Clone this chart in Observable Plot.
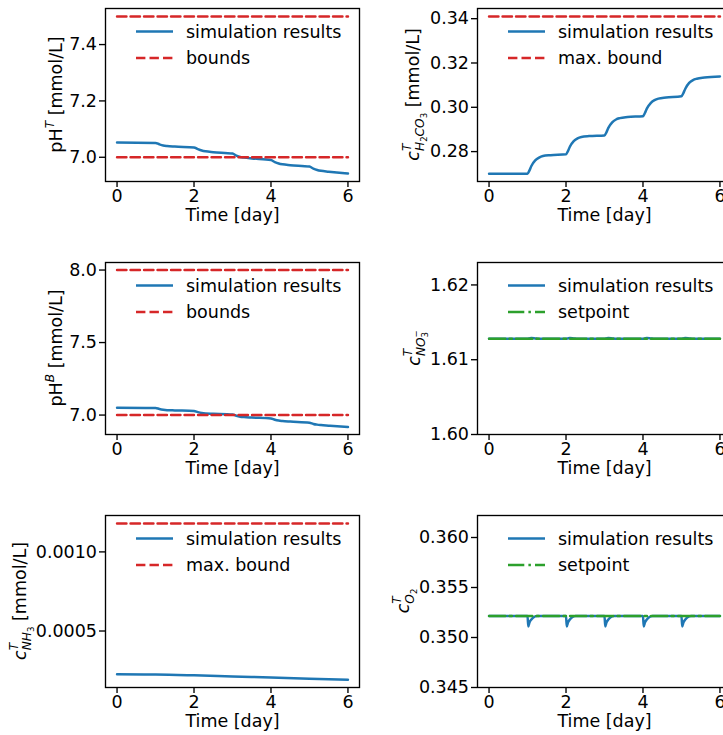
<!DOCTYPE html>
<html><head><meta charset="utf-8">
<script src="https://cdn.jsdelivr.net/npm/d3@7"></script>
<script src="https://cdn.jsdelivr.net/npm/@observablehq/plot@0.6"></script>
<style>
body{margin:0;background:#fff}
#wrap{position:relative;width:723px;height:735px;overflow:hidden;background:#fff}
.cell{position:absolute}
.cell svg{max-width:none !important;overflow:visible}
</style>
</head><body><div id="wrap"></div>
<script>
// ---------- data ----------
const xTicks = [0, 2, 4, 6];
const boundSpan = [0, 6];

const tPH = [0, 1, 1.1, 1.2, 1.3, 1.5, 2, 2.1, 2.2, 2.3, 2.5, 3, 3.1, 3.2, 3.3, 3.5, 4, 4.1, 4.2, 4.3, 4.5, 5, 5.1, 5.2, 5.3, 5.5, 6];
const pHT = [7.052, 7.051, 7.046, 7.042, 7.040, 7.038, 7.035, 7.029, 7.024, 7.021, 7.018, 7.013, 7.006, 7.001, 6.999, 6.996, 6.990, 6.983, 6.978, 6.975, 6.972, 6.967, 6.960, 6.955, 6.952, 6.949, 6.942];
const pHB = [7.050, 7.049, 7.042, 7.037, 7.034, 7.032, 7.028, 7.020, 7.014, 7.011, 7.009, 7.004, 6.995, 6.989, 6.986, 6.983, 6.977, 6.968, 6.962, 6.959, 6.955, 6.947, 6.939, 6.934, 6.931, 6.927, 6.917];
const pHTBounds = [7.0, 7.5];
const pHBBounds = [7.0, 8.0];

const tH2CO3 = [0, 1, 1.05, 1.1, 1.2, 1.3, 1.4, 1.6, 2, 2.05, 2.1, 2.2, 2.3, 2.4, 2.6, 3, 3.05, 3.1, 3.2, 3.3, 3.4, 3.6, 4, 4.05, 4.1, 4.2, 4.3, 4.4, 4.6, 5, 5.05, 5.1, 5.2, 5.3, 5.4, 5.6, 6];
const cH2CO3 = [0.2700, 0.2700, 0.2715, 0.2735, 0.2760, 0.2773, 0.2780, 0.2784, 0.2788, 0.2802, 0.2822, 0.2847, 0.2860, 0.2866, 0.2870, 0.2873, 0.2887, 0.2907, 0.2932, 0.2945, 0.2951, 0.2956, 0.2960, 0.2974, 0.2994, 0.3019, 0.3032, 0.3039, 0.3044, 0.3050, 0.3064, 0.3084, 0.3110, 0.3123, 0.3129, 0.3134, 0.3139];
const h2co3Max = [0.341];

const tNO3 = [0, 1, 1.05, 1.1, 1.2, 1.3, 2, 2.05, 2.1, 2.2, 2.3, 3, 3.05, 3.1, 3.2, 3.3, 4, 4.05, 4.1, 4.2, 4.3, 5, 5.05, 5.1, 5.2, 5.3, 6];
const cNO3 = [1.6128, 1.6128, 1.61285, 1.6129, 1.61285, 1.6128, 1.6128, 1.61285, 1.6129, 1.61285, 1.6128, 1.6128, 1.61285, 1.6129, 1.61285, 1.6128, 1.6128, 1.61285, 1.6129, 1.61285, 1.6128, 1.6128, 1.61285, 1.6129, 1.61285, 1.6128, 1.6128];
const no3Setpoint = [1.6128];

const tNH3 = [0, 1, 2, 3, 4, 5, 6];
const cNH3 = [0.000226, 0.000225, 0.000220, 0.000213, 0.000206, 0.000199, 0.000192];
const nh3Max = [0.00118];

const tO2 = [0, 1, 1.02, 1.05, 1.1, 1.15, 1.25, 2, 2.02, 2.05, 2.1, 2.15, 2.25, 3, 3.02, 3.05, 3.1, 3.15, 3.25, 4, 4.02, 4.05, 4.1, 4.15, 4.25, 5, 5.02, 5.05, 5.1, 5.15, 5.25, 6];
const cO2 = [0.35216, 0.35216, 0.3511, 0.3515, 0.3518, 0.3520, 0.35214, 0.35216, 0.3511, 0.3515, 0.3518, 0.3520, 0.35214, 0.35216, 0.3511, 0.3515, 0.3518, 0.3520, 0.35214, 0.35216, 0.3511, 0.3515, 0.3518, 0.3520, 0.35214, 0.35216, 0.3511, 0.3515, 0.3518, 0.3520, 0.35214, 0.35216];
const o2Setpoint = [0.35216];

// ---------- style ----------
const BLUE = "#1f77b4", RED = "#d62728", GREEN = "#2ca02c";
const LW = 2.5, DASH = "9.4,4.1", DASHDOT = "16.3,4.1,2.5,4.1";
const FONT = "DejaVu Sans";
const FS = 17.5;

const SUP = 12.2, NEST = 8.6;
const pHLabel = (letter) => [
  {s: "pH"}, {s: letter, size: SUP, it: true, dy: -7.7}, {s: " [mmol/L]", dy: 7.7}
];

const panels = [
  {left: 0, top: 0, w: 370, h: 240, m: [8, 11, 59, 105], yDomain: [6.914, 7.528], yTicks: [7.0, 7.2, 7.4], fmt: ".1f",
   t: tPH, v: pHT, refs: pHTBounds, refKind: "bound", legend: "bounds", labelX: 62,
   label: pHLabel("T")},
  {left: 370, top: 0, w: 370, h: 240, m: [8, 9, 59, 107], yDomain: [0.2665, 0.3446], yTicks: [0.28, 0.30, 0.32, 0.34], fmt: ".2f",
   t: tH2CO3, v: cH2CO3, refs: h2co3Max, refKind: "bound", legend: "max. bound", labelX: 49,
   label: [{s: "c", it: true}, {s: "T", size: SUP, it: true, dy: -7.7}, {s: "H", size: SUP, it: true, dx: -7.4, dy: 12.8},
           {s: "2", size: NEST, dy: 2.6}, {s: "CO", size: SUP, it: true, dy: -2.6}, {s: "3", size: NEST, dy: 2.6},
           {s: " [mmol/L]", dy: -7.7}]},
  {left: 0, top: 250, w: 370, h: 240, m: [12, 11, 56, 105], yDomain: [6.866, 8.052], yTicks: [7.0, 7.5, 8.0], fmt: ".1f",
   t: tPH, v: pHB, refs: pHBBounds, refKind: "bound", legend: "bounds", labelX: 62,
   label: pHLabel("B")},
  {left: 370, top: 250, w: 370, h: 240, m: [12, 9, 56, 107], yDomain: [1.60, 1.623], yTicks: [1.60, 1.61, 1.62], fmt: ".2f",
   t: tNO3, v: cNO3, refs: no3Setpoint, refKind: "setpoint", legend: "setpoint", labelX: 50,
   label: [{s: "c", it: true}, {s: "T", size: SUP, it: true, dy: -7.7}, {s: "NO", size: SUP, it: true, dx: -7.4, dy: 12.8},
           {s: "\u2212", size: NEST, dy: -6.2}, {s: "3", size: NEST, dx: -7.2, dy: 8.8}]},
  {left: 0, top: 500, w: 370, h: 235, m: [15, 11, 48, 105], yDomain: [0.000143, 0.00123], yTicks: [0.0005, 0.0010], fmt: ".4f",
   t: tNH3, v: cNH3, refs: nh3Max, refKind: "bound", legend: "max. bound", labelX: 26,
   label: [{s: "c", it: true}, {s: "T", size: SUP, it: true, dy: -7.7}, {s: "NH", size: SUP, it: true, dx: -7.4, dy: 12.8},
           {s: "3", size: NEST, dy: 2.6}, {s: " [mmol/L]", dy: -7.7}]},
  {left: 370, top: 500, w: 370, h: 235, m: [15, 9, 48, 107], yDomain: [0.345, 0.3622], yTicks: [0.345, 0.350, 0.355, 0.360], fmt: ".3f",
   t: tO2, v: cO2, refs: o2Setpoint, refKind: "setpoint", legend: "setpoint", labelX: 39,
   label: [{s: "c", it: true}, {s: "T", size: SUP, it: true, dy: -7.7}, {s: "O", size: SUP, it: true, dx: -7.4, dy: 12.8},
           {s: "2", size: NEST, dy: 2.6}]}
];

const wrap = document.getElementById("wrap");

for (const p of panels) {
  const [mt, mr, mb, ml] = p.m;
  const sim = p.t.map((t, i) => ({t, v: p.v[i]}));
  const refLines = p.refs.flatMap((r, k) => boundSpan.map(t => ({t, v: r, k})));
  const isBound = p.refKind === "bound";
  const refColor = isBound ? RED : GREEN;
  const refDash = isBound ? DASH : DASHDOT;

  const svg = Plot.plot({
    width: p.w, height: p.h,
    marginTop: mt, marginRight: mr, marginBottom: mb, marginLeft: ml,
    style: {fontFamily: FONT, fontSize: FS + "px", color: "black", background: "white", overflow: "visible"},
    x: {domain: [-0.3, 6.3]},
    y: {domain: p.yDomain},
    marks: [
      Plot.axisX({ticks: xTicks, tickFormat: d3.format("d"), tickSize: 6, tickPadding: 2.5, strokeWidth: 1.35, fontSize: FS, label: null}),
      Plot.axisY({ticks: p.yTicks, tickFormat: d3.format(p.fmt), tickSize: 6, tickPadding: 2.5, strokeWidth: 1.35, fontSize: FS, label: null}),
      Plot.line(sim, {x: "t", y: "v", stroke: BLUE, strokeWidth: LW, curve: "monotone-x"}),
      Plot.line(refLines, {x: "t", y: "v", z: "k", stroke: refColor, strokeWidth: LW, strokeDasharray: refDash}),
      Plot.frame({stroke: "black", strokeWidth: 1.35}),
      Plot.text(["Time [day]"], {frameAnchor: "bottom", lineAnchor: "bottom", dy: 39.5, text: d => d, fontSize: FS, fill: "black"})
    ]
  });

  const cell = document.createElement("div");
  cell.className = "cell";
  cell.style.left = p.left + "px";
  cell.style.top = p.top + "px";
  cell.style.width = p.w + "px";
  cell.style.height = p.h + "px";
  cell.appendChild(svg);
  wrap.appendChild(cell);

  const s = d3.select(svg);
  // legend
  const lg = s.append("g").attr("transform", `translate(${ml},${mt})`)
    .attr("font-family", FONT).attr("font-size", FS).attr("fill", "black")
    .attr("text-anchor", "start");
  const items = [
    {label: "simulation results", color: BLUE, dash: null},
    {label: p.legend, color: refColor, dash: refDash}
  ];
  items.forEach((it, i) => {
    const y = 23.5 + i * 26.5;
    const ln = lg.append("line").attr("x1", 31).attr("x2", 68).attr("y1", y).attr("y2", y)
      .attr("stroke", it.color).attr("stroke-width", LW);
    if (it.dash) ln.attr("stroke-dasharray", it.dash);
    lg.append("text").attr("x", 81).attr("y", y).attr("dy", "0.35em").attr("text-anchor", "start").text(it.label);
  });

  // y label with sub/superscripts
  const yc = (mt + (p.h - mb)) / 2;
  const txt = s.append("text")
    .attr("transform", `translate(${p.labelX},${yc}) rotate(-90)`)
    .attr("text-anchor", "middle")
    .attr("font-family", FONT).attr("font-size", FS).attr("fill", "black")
    .style("white-space", "pre");
  for (const part of p.label) {
    const ts = txt.append("tspan").text(part.s);
    if (part.size) ts.attr("font-size", part.size);
    if (part.it) ts.attr("font-style", "italic");
    if (part.dx) ts.attr("dx", part.dx);
    if (part.dy) ts.attr("dy", part.dy);
  }
}
</script>
</body></html>
